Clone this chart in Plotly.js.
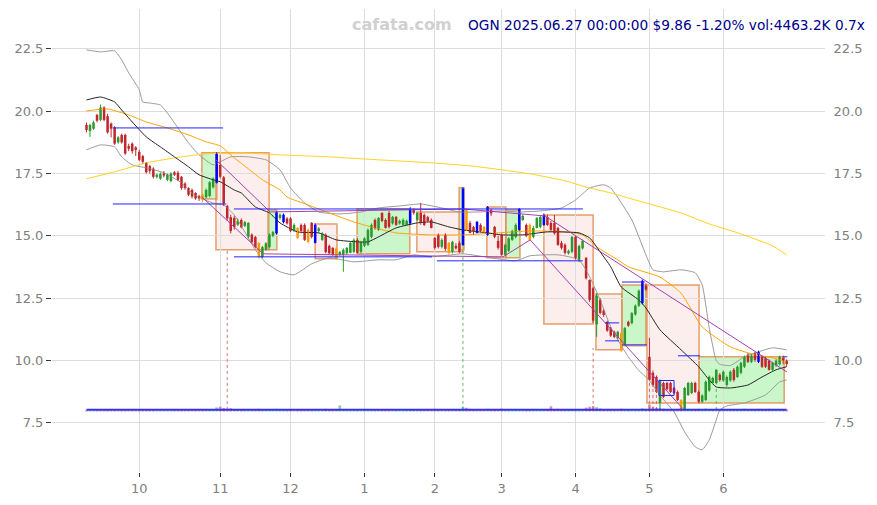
<!DOCTYPE html>
<html><head><meta charset="utf-8">
<script src="https://cdn.plot.ly/plotly-3.0.1.min.js"></script>
<style>html,body{margin:0;padding:0;background:#fff}#chart{width:877px;height:505px}</style>
</head><body><div id="chart"></div>
<script>
// ---- OHLC (trading-day index 0 = 2024-09-10 ... 199 = 2025-06-27) ----
const openP = [19.45,19.2,19.3,19.85,19.65,20.15,19.8,19.5,19.35,18.75,
19.05,19.05,18.6,18.7,18.55,18.37,18.2,17.93,17.8,17.7,
17.37,17.3,17.5,17.25,17.2,17.55,17.53,17.37,17.1,16.92,
16.84,16.72,16.6,16.65,16.55,16.6,16.95,17.13,17.85,17.35,
16.2,15.75,15.72,15.45,15.64,15.4,14.96,15.05,14.96,14.72,
14.15,14.45,14.55,15.0,15.1,15.72,15.55,15.7,15.7,15.2,
15.32,15.44,15.44,15.24,15.52,14.72,15.2,14.84,15.04,14.6,
14.52,14.5,14.24,14.24,14.3,14.32,14.36,14.84,14.36,14.6,
14.64,14.96,15.64,15.24,15.92,15.64,15.92,15.5,15.76,15.5,
15.44,15.44,15.5,16.04,15.64,15.92,15.84,15.75,15.64,14.92,
15.04,14.56,15.04,14.72,14.36,14.6,14.72,14.64,16.04,15.52,
15.35,15.12,15.44,15.36,15.04,16.04,15.36,14.8,15.04,14.24,
14.4,14.84,14.96,15.24,15.64,15.44,15.44,14.96,15.32,15.36,
15.44,15.76,15.52,15.52,15.32,14.72,14.64,14.3,14.36,14.96,
14.04,14.5,14.12,13.23,12.9,11.45,12.43,12.0,11.55,11.3,
11.15,10.9,11.1,10.65,11.55,11.5,11.85,12.2,12.3,13.0,
10.15,9.51,9.34,8.3,9.1,9.1,9.1,8.9,8.74,8.42,
8.06,8.62,8.7,9.1,8.74,8.35,8.42,8.8,9.1,9.1,
9.43,9.2,9.02,9.2,9.63,9.34,9.51,9.75,10.23,9.95,
10.3,9.95,10.15,10.1,10.0,9.63,9.8,9.85,10.1,10.0];
const highP = [19.55,19.5,19.62,19.9,20.27,20.2,19.9,19.55,19.4,19.0,
19.1,19.1,18.7,18.75,18.6,18.45,18.25,17.95,17.85,17.75,
17.5,17.55,17.6,17.5,17.55,17.6,17.6,17.4,17.15,16.95,
16.9,16.75,16.65,16.7,16.9,17.2,17.35,18.35,18.25,17.4,
16.25,15.85,15.8,15.7,15.7,15.6,15.55,15.1,15.0,14.75,
14.6,14.75,15.1,15.2,16.0,15.9,15.9,15.75,15.75,15.5,
15.35,15.5,15.5,15.3,15.55,15.5,15.35,15.15,15.1,14.65,
14.55,14.55,14.4,14.5,14.55,14.75,14.9,14.9,14.8,14.95,
15.3,15.5,15.7,15.75,15.95,15.7,16.0,15.8,15.8,15.65,
15.7,15.65,16.15,16.1,15.95,16.32,15.9,15.8,15.7,14.95,
15.1,14.9,15.1,14.75,14.8,14.7,14.8,16.95,16.1,15.6,
15.4,15.6,15.5,15.4,16.2,16.1,15.4,15.0,15.1,14.7,
14.95,15.25,15.5,16.12,15.85,15.5,15.5,15.4,15.75,15.8,
15.9,15.85,15.6,15.84,15.35,14.8,14.7,14.45,15.0,15.0,
14.65,14.85,14.15,13.25,12.95,12.7,12.5,12.05,11.6,11.35,
11.2,11.2,11.15,11.35,11.6,11.95,12.25,12.85,13.25,13.1,
10.91,9.6,9.4,9.25,9.15,9.15,9.15,8.95,8.8,8.45,
8.95,9.15,9.15,9.15,8.8,8.65,9.2,9.4,9.35,9.65,
9.5,9.6,9.4,9.6,9.7,9.8,9.95,10.2,10.3,10.25,
10.35,10.4,10.2,10.15,10.05,9.95,10.05,10.2,10.2,10.05];
const lowP = [19.15,18.97,19.25,19.55,19.6,19.6,19.1,18.95,18.65,18.7,
18.7,18.25,18.4,18.3,18.2,18.0,17.9,17.5,17.5,17.3,
17.3,17.25,17.35,17.2,17.15,17.4,17.2,16.85,16.85,16.6,
16.5,16.45,16.4,16.35,16.5,16.55,16.9,17.1,17.3,16.2,
15.6,15.1,15.25,15.4,15.3,15.35,14.9,14.7,14.5,14.1,
14.1,14.4,14.5,14.95,15.05,15.65,15.5,15.45,15.15,15.15,
14.88,15.1,14.8,14.7,14.9,14.7,15.1,14.8,14.3,14.25,
14.2,14.05,14.2,13.56,14.25,14.3,14.3,14.3,14.3,14.55,
14.6,14.9,15.25,15.2,15.55,15.3,15.3,15.45,15.4,15.45,
15.4,15.4,15.45,15.85,15.6,15.45,15.4,15.55,15.3,14.45,
14.5,14.5,14.4,14.25,14.3,14.45,14.3,14.6,15.2,15.1,
15.05,15.1,15.15,15.1,15.0,15.8,14.9,14.45,14.2,14.2,
14.35,14.8,14.9,15.2,15.6,14.95,14.8,14.9,15.3,15.3,
15.4,15.4,15.2,15.05,14.6,14.45,14.25,14.25,14.3,14.05,
13.95,14.45,13.25,12.35,11.5,10.95,11.85,11.75,11.15,10.95,
10.9,10.85,10.35,10.6,11.35,11.45,11.8,12.15,12.25,12.8,
9.2,8.95,8.7,8.02,8.5,8.8,8.7,8.65,8.38,7.98,
8.02,8.58,8.65,8.7,8.3,8.3,8.38,8.75,9.05,9.05,
9.15,9.15,8.95,9.15,9.15,9.3,9.45,9.7,9.9,9.9,
9.95,9.9,9.7,9.7,9.6,9.55,9.75,9.8,9.85,9.75];
const closeP = [19.25,19.45,19.55,19.62,20.15,19.65,19.15,19.3,18.7,18.95,
18.75,18.3,18.5,18.4,18.45,18.05,17.97,17.55,17.6,17.37,
17.45,17.48,17.42,17.45,17.5,17.45,17.25,16.92,16.92,16.65,
16.58,16.5,16.5,16.45,16.84,17.15,17.3,18.3,17.37,16.3,
15.7,15.2,15.35,15.6,15.35,15.55,15.52,14.75,14.55,14.15,
14.55,14.7,15.05,15.15,15.95,15.85,15.85,15.5,15.2,15.44,
14.92,15.2,14.84,14.76,14.96,15.44,15.3,15.1,14.35,14.3,
14.24,14.12,14.35,14.44,14.52,14.72,14.84,14.32,14.76,14.9,
15.24,15.44,15.32,15.72,15.6,15.32,15.36,15.76,15.44,15.6,
15.64,15.6,16.08,15.92,15.92,15.52,15.44,15.6,15.32,14.52,
14.56,14.84,14.48,14.32,14.76,14.5,14.36,16.9,15.24,15.12,
15.2,15.56,15.2,15.12,16.16,15.9,14.96,14.52,14.24,14.64,
14.9,15.2,15.44,16.08,15.8,15.0,14.84,15.32,15.72,15.76,
15.84,15.44,15.24,15.1,14.64,14.52,14.32,14.4,14.96,14.12,
14.6,14.8,13.3,12.43,11.6,12.6,11.91,11.83,11.2,11.0,
10.95,11.15,10.4,11.3,11.4,11.9,12.2,12.8,13.2,12.85,
9.22,9.02,8.74,9.22,8.54,8.85,8.74,8.7,8.42,8.02,
8.9,9.1,9.1,8.74,8.35,8.6,9.15,9.35,9.3,9.63,
9.22,9.55,9.34,9.55,9.22,9.75,9.91,10.15,9.95,10.2,
10.03,10.35,9.75,9.75,9.63,9.91,10.0,10.15,9.98,9.86];
const volK = [3200,2800,2600,3500,4200,3000,4800,3100,5200,2900,
3300,4100,2800,3600,2500,3900,3400,4500,3200,3800,
2700,2900,2600,3100,2800,3000,3300,4000,3500,3700,
3600,3400,3100,3900,3700,4500,4800,9500,11000,8000,
6500,7500,5200,4200,3800,3500,5600,4300,5000,6200,
4400,3800,4600,3900,6000,3500,4200,3300,3700,3100,
4100,3400,4300,3800,3900,5500,3200,3600,6100,4700,
4500,5200,14000,4800,3300,3000,3400,3600,2900,3300,
4000,4600,3700,3900,3800,3500,4400,3200,3600,3100,
3000,3300,5200,3400,3700,4300,3900,3500,3800,6000,
5200,3800,4900,4700,3600,3300,4200,11000,8500,6000,
4500,4200,3800,4000,6200,4600,5100,5300,6400,4200,
3900,4100,4300,5500,3800,4600,4900,3700,4000,3600,
4400,5000,12000,5200,6100,4800,5000,3600,4200,5600,
4700,4100,9000,11000,12500,10000,7000,5500,6000,5200,
4800,4600,6300,5600,4500,4800,4900,5500,7200,6000,
16000,11000,8000,7500,6500,5800,5200,5000,6300,8200,
7400,6000,5500,5300,6200,5100,6800,5700,4900,6500,
5200,4600,4800,4700,5300,5000,5600,6200,5400,4800,
5200,6000,5900,5500,6100,4500,4300,5000,4700,4463.2];
const orangeIdx = [33,49,60,63,71,103,108,113,126,152,169];
const blueIdx = [37,54,56,65,92,107,111,114,123,130,158,191];

// ---- axis ticks ----
const monthTickIdx = [15,38,58,79,99,118,139,160,181];
const monthTickText = ['10','11','12','1','2','3','4','5','6'];
const priceTicks = [7.5,10,12.5,15,17.5,20,22.5];
const priceTickText = ['7.5','10.0','12.5','15.0','17.5','20.0','22.5'];

// ---- indicator lines (index, value) ----
const maShortIdx = [0,4,8,10,13,17,21,25,29,32,36,38,42,44,48,52,55,60,66,71,77,80,83,88,94,98,103,107,114,118,124,131,140,143,146,149,152,157,159,163,169,174,177,179,183,188,192,196,199];
const maShortVal = [20.45,20.57,20.37,20.05,19.57,18.97,18.57,18.17,17.77,17.45,17.25,17.17,16.84,16.72,16.16,15.92,15.52,15.16,15.12,14.84,14.76,14.76,14.96,15.32,15.52,15.56,15.36,15.24,15.12,15.04,15.04,15.16,15.12,14.92,14.36,13.76,12.95,12.43,12.11,11.23,10.43,9.75,9.22,8.94,8.9,9.02,9.34,9.63,9.75];
const maMidIdx = [0,6,12,17,23,29,34,38,42,46,50,55,57,63,69,76,83,88,98,107,117,126,136,141,145,151,154,163,169,175,183,190,195,199];
const maMidVal = [20.01,20.09,19.85,19.57,19.33,19.05,18.77,18.61,18.13,17.69,17.25,16.84,16.56,16.24,15.92,15.56,15.28,15.12,15.04,15.04,15.12,15.2,15.16,15.04,14.56,14.04,13.76,13.35,12.7,11.35,10.55,10.23,10.11,9.95];
const maLongIdx = [0,8,17,27,34,44,55,69,83,98,109,118,126,136,142,149,155,160,169,177,186,195,199];
const maLongVal = [17.29,17.57,17.93,18.17,18.29,18.33,18.25,18.17,18.05,17.93,17.81,17.65,17.49,17.21,16.96,16.72,16.48,16.28,15.92,15.48,15.08,14.6,14.24];
const bandUpIdx = [0,4,8,10,12,15,16,18,21,23,26,29,32,36,38,41,46,51,55,58,62,66,72,78,83,89,95,101,106,112,118,123,129,135,139,143,147,149,155,159,161,164,169,173,175,177,179,180,183,187,191,195,199];
const bandUpVal = [22.46,22.38,22.42,22.06,21.54,20.86,20.37,20.33,20.25,19.93,19.33,18.73,18.25,17.85,17.97,18.17,18.17,18.05,17.65,16.92,16.32,15.96,15.88,15.96,16.12,16.2,16.28,16.12,15.96,15.96,16.0,15.96,16.0,16.12,16.44,16.92,17.05,16.92,15.64,14.24,13.64,13.56,13.64,13.52,13.03,11.3,10.0,9.85,9.8,10.15,10.35,10.51,10.43];
const bandLoIdx = [0,4,8,10,13,17,22,27,30,33,36,39,42,45,48,51,55,59,64,69,76,83,88,93,98,107,115,122,126,134,140,143,146,149,151,154,157,160,163,167,170,173,175,177,179,180,182,187,193,197,199];
const bandLoVal = [18.45,18.65,18.57,18.17,17.85,17.73,17.53,17.13,16.72,16.48,16.32,16.24,15.84,15.16,14.44,13.92,13.56,13.44,13.88,14.12,13.96,14.04,14.04,14.24,14.16,14.28,14.12,14.0,14.2,14.24,14.04,13.36,12.43,11.35,10.83,10.15,9.6,9.2,8.6,7.94,7.14,6.54,6.42,6.82,7.62,8.02,8.18,8.3,8.62,9.14,9.22];

// ---- boxes, trend lines, levels ----
const boxX0  = [32.8,36.8,51.6,65.0,76.9,93.9,105.9,113.8,119.2,130.0,144.8,152.2,159.3,174.1];
const boxX1  = [37.1,51.9,54.1,71.2,91.9,107.0,107.3,119.2,123.2,144.0,152.2,159.0,174.1,198.3];
const boxTop = [18.33,18.33,16.04,15.48,16.08,15.96,16.93,16.16,16.04,15.84,12.67,13.03,13.03,10.15];
const boxBot = [16.48,14.44,14.44,14.08,14.28,14.36,14.44,14.12,14.12,11.47,10.43,10.59,8.3,8.3];
const boxUp  = [1,0,1,0,1,0,1,0,1,0,0,1,0,1];
const trendX0 = [32.8,36.8,52.2,107.0,130.3,49.9,118.4,126.1];
const trendY0 = [16.56,18.05,15.96,16.08,15.8,14.28,14.16,14.84];
const trendX1 = [49.9,52.2,107.0,130.3,199.1,118.4,126.1,169.3];
const trendY1 = [14.32,15.96,16.08,15.8,9.54,14.16,14.84,8.1];
const levelX0 = [7.5,7.5,41.9,41.9,99.6,152.2,152.2,147.4,147.4,168.1,198.0];
const levelX1 = [38.8,39.7,141.1,98.2,141.1,158.7,159.3,151.4,151.4,174.4,199.2];
const levelY  = [19.33,16.28,16.08,14.16,14.0,13.15,10.63,11.51,10.79,10.19,10.15];
const rangeBoxX = [162.7,167.0];
const rangeBoxY = [8.6,9.2];
const markIdx = [40,107,144,160,161,162,163,179];
const markTop = [14.44,14.44,10.5,9.2,9.0,8.9,8.1,8.9];
const markUp  = [0,1,0,0,0,0,1,1];

const RED='#c0282c', GREEN='#2a9a2e', ORANGE='#ff9a00', BLUE='#0000ff';
const idx = closeP.map((_, i) => i);
const col = idx.map(i => orangeIdx.includes(i) ? ORANGE : blueIdx.includes(i) ? BLUE : (closeP[i] >= openP[i] ? GREEN : RED));

const traces = [];
// volume
traces.push({type:'bar', x:idx, y:volK, yaxis:'y3', width:0.75,
  marker:{color: idx.map(i => closeP[i] >= openP[i] ? 'rgba(60,160,60,0.55)' : 'rgba(200,60,60,0.55)'), line:{width:0}},
  hoverinfo:'skip', showlegend:false});
// bands & MAs
const line = (xs, ys, c, w) => ({type:'scatter', mode:'lines', x:xs, y:ys, line:{color:c, width:w, shape:'spline', smoothing:0.5}, hoverinfo:'skip', showlegend:false});
traces.push(line(bandUpIdx, bandUpVal, '#9a9a9a', 1));
traces.push(line(bandLoIdx, bandLoVal, '#9a9a9a', 1));
traces.push(line(maLongIdx, maLongVal, '#ffd21f', 1));
traces.push(line(maMidIdx, maMidVal, '#ffa500', 1));
traces.push(line(maShortIdx, maShortVal, '#222222', 1));
// wicks
[RED, GREEN, ORANGE, BLUE].forEach(c => {
  const xs = [], ys = [];
  idx.forEach(i => { if (col[i] === c) { xs.push(i, i, null); ys.push(lowP[i], highP[i], null); } });
  traces.push({type:'scatter', mode:'lines', x:xs, y:ys, line:{color:c, width:1}, hoverinfo:'skip', showlegend:false});
});
// bodies
traces.push({type:'bar', x:idx, base: idx.map(i => Math.min(openP[i], closeP[i])),
  y: idx.map(i => Math.max(Math.abs(closeP[i] - openP[i]), 0.03)), width:0.72,
  marker:{color:col, line:{width:0}}, hoverinfo:'skip', showlegend:false});
// right axis carrier
traces.push({type:'scatter', mode:'lines', x:idx, y:closeP, yaxis:'y2', opacity:0, hoverinfo:'skip', showlegend:false});

const shapes = [];
boxX0.forEach((x0, k) => shapes.push({type:'rect', xref:'x', yref:'y', layer:'below',
  x0:x0, x1:boxX1[k], y0:boxBot[k], y1:boxTop[k],
  fillcolor: boxUp[k] ? 'rgba(150,240,150,0.5)' : 'rgba(250,200,200,0.3)',
  line:{color:'rgba(225,135,70,0.8)', width:1.5}}));
trendX0.forEach((x0, k) => shapes.push({type:'line', xref:'x', yref:'y', x0:x0, y0:trendY0[k], x1:trendX1[k], y1:trendY1[k], line:{color:'#a040b0', width:1}}));
levelX0.forEach((x0, k) => shapes.push({type:'line', xref:'x', yref:'y', x0:x0, y0:levelY[k], x1:levelX1[k], y1:levelY[k], line:{color:'#2424ff', width:1}}));
shapes.push({type:'rect', xref:'x', yref:'y', x0:rangeBoxX[0], x1:rangeBoxX[1], y0:rangeBoxY[0], y1:rangeBoxY[1], line:{color:'#2424ff', width:1}});
markIdx.forEach((m, k) => shapes.push({type:'line', xref:'x', yref:'y', x0:m, x1:m, y0:8.02, y1:markTop[k], line:{color: markUp[k] ? 'rgba(60,170,60,0.8)' : 'rgba(210,80,80,0.8)', width:1, dash:'dot'}}));
shapes.push({type:'line', xref:'x', yref:'y', x0:0, x1:199, y0:8.03, y1:8.03, line:{color:'#3030ff', width:2}});

const yr = [5.53, 24.1];
const tickFont = {family:'DejaVu Sans, sans-serif', size:13, color:'#808080'};
const layout = {
  width:877, height:505, margin:{l:52, r:52, t:9, b:33},
  paper_bgcolor:'#fff', plot_bgcolor:'#fff', barmode:'overlay', showlegend:false,
  xaxis:{range:[-9.8, 209.9], tickvals:monthTickIdx, ticktext:monthTickText, showgrid:true, gridcolor:'#dddddd', gridwidth:1,
    ticks:'outside', ticklen:4, tickcolor:'#333', tickfont:tickFont, zeroline:false, showline:false},
  yaxis:{range:yr, tickvals:priceTicks, ticktext:priceTickText, showgrid:true, gridcolor:'#dddddd', gridwidth:1,
    ticks:'outside', ticklen:5, tickcolor:'#333', tickfont:tickFont, zeroline:false, showline:false},
  yaxis2:{range:yr, overlaying:'y', side:'right', tickvals:priceTicks, ticktext:priceTickText, showgrid:false,
    ticks:'outside', ticklen:5, tickcolor:'rgba(0,0,0,0)', tickfont:tickFont, zeroline:false, showline:false},
  yaxis3:{range:[-138500, 921500], overlaying:'y', visible:false, fixedrange:true},
  shapes:shapes,
  annotations:[
    {xref:'paper', yref:'paper', x:(402-52)/773, y:(472-25)/463, xanchor:'center', yanchor:'middle', showarrow:false,
     text:'cafata.com', font:{family:'DejaVu Sans, sans-serif', size:16, color:'#d0d0d0', weight:'bold'}},
    {xref:'paper', yref:'paper', x:(867-52)/773, y:(472-25)/463, xanchor:'right', yanchor:'middle', showarrow:false,
     text:'OGN 2025.06.27 00:00:00 $9.86 -1.20% vol:4463.2K 0.7x', font:{family:'DejaVu Sans, sans-serif', size:13.7, color:'#00008b'}}
  ]
};
Plotly.newPlot('chart', traces, layout, {staticPlot:true, displayModeBar:false});
</script></body></html>
